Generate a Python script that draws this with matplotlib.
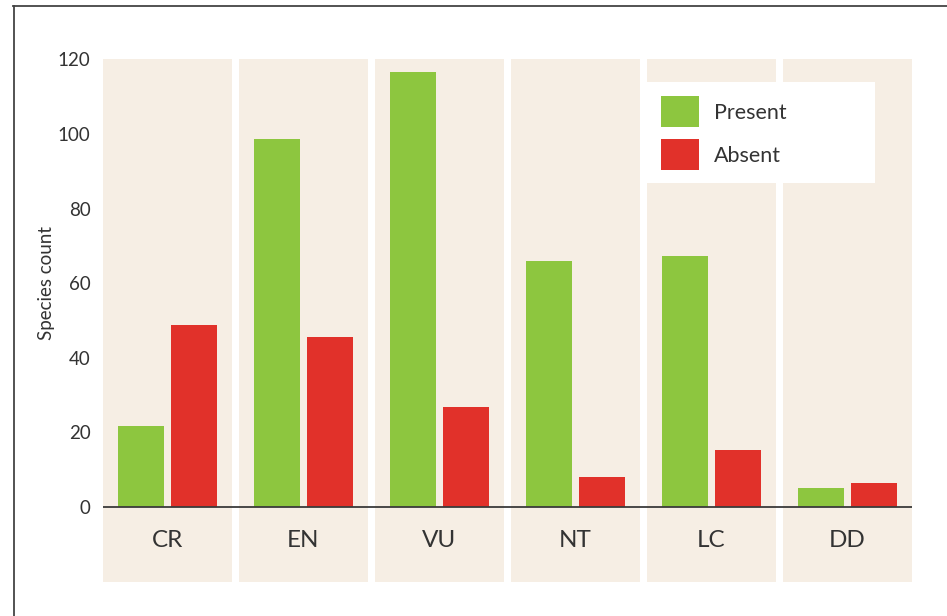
import matplotlib
matplotlib.use("Agg")
import matplotlib.pyplot as plt
from matplotlib.patches import Rectangle
from matplotlib.lines import Line2D
import numpy as np

categories = ["CR", "EN", "VU", "NT", "LC", "DD"]
present = [21.6, 98.6, 116.6, 65.9, 67.2, 5.0]
absent = [48.7, 45.5, 26.7, 8.0, 15.2, 6.4]
yticks = [0, 20, 40, 60, 80, 100, 120]
series_names = ["Present", "Absent"]

GREEN = "#8DC63F"
RED = "#E1312A"
BEIGE = "#F6EEE4"
TEXT = "#333333"

plt.rcParams["font.family"] = ["Lato", "DejaVu Sans"]

W, H = 947, 616
fig = plt.figure(figsize=(W / 100, H / 100), dpi=100)


def fx(px):
    return px / W


def fy(py):
    return 1 - py / H


# frame lines (figure pixel coords)
fig.add_artist(Line2D([fx(13.5), fx(13.5)], [0, fy(5.5)], transform=fig.transFigure,
                      color="#444444", lw=1.3))
fig.add_artist(Line2D([fx(13), 1], [fy(5.5), fy(5.5)], transform=fig.transFigure,
                      color="#444444", lw=1.3))

left, right = fx(103), fx(912)
bottom, top = fy(581.7), fy(59.3)
ax = fig.add_axes([left, bottom, right - left, top - bottom])

n = len(categories)
x = np.arange(n)
half_panel = 0.474
ax.set_xlim(-half_panel, n - 1 + half_panel)
ymin, ymax = -20, 120
ax.set_ylim(ymin, ymax)

for xi in x:
    ax.add_patch(Rectangle((xi - half_panel, ymin), 2 * half_panel, ymax - ymin,
                           facecolor=BEIGE, edgecolor="none", zorder=0))

bw = 0.338
off = 0.195
bars_p = ax.bar(x - off, present, width=bw, color=GREEN, zorder=2, label=series_names[0])
bars_a = ax.bar(x + off, absent, width=bw, color=RED, zorder=2, label=series_names[1])
ax.axhline(0, color="#3a3a3a", lw=1.3, zorder=3)

for xi, c in zip(x, categories):
    ax.text(xi, -9, c, ha="center", va="center", fontsize=17.5, color=TEXT)

for s in ax.spines.values():
    s.set_visible(False)
ax.set_xticks([])
ax.set_yticks(yticks)
ax.set_yticklabels([str(t) for t in yticks])
ax.tick_params(axis="y", length=0, pad=9, labelsize=13.5, labelcolor=TEXT)
ax.set_ylabel("Species count", fontsize=13.5, color=TEXT)
ax.yaxis.set_label_coords(-0.059, (60 - ymin) / (ymax - ymin))
ax.patch.set_visible(False)

# legend (drawn in figure pixel coordinates)
fig.add_artist(Rectangle((fx(647), fy(183)), (875 - 647) / W, (183 - 82) / H,
                         transform=fig.transFigure, facecolor="white", edgecolor="none",
                         zorder=4))
for i, (name, col) in enumerate(zip(series_names, [GREEN, RED])):
    top_px = 96 + i * 43
    fig.add_artist(Rectangle((fx(661), fy(top_px + 31)), 38 / W, 31 / H,
                             transform=fig.transFigure, facecolor=col, edgecolor="none",
                             zorder=5))
    fig.text(fx(714), fy(top_px + 17), name, ha="left", va="center", fontsize=15.5,
             color=TEXT, zorder=6)

fig.savefig("out.png", dpi=100)
